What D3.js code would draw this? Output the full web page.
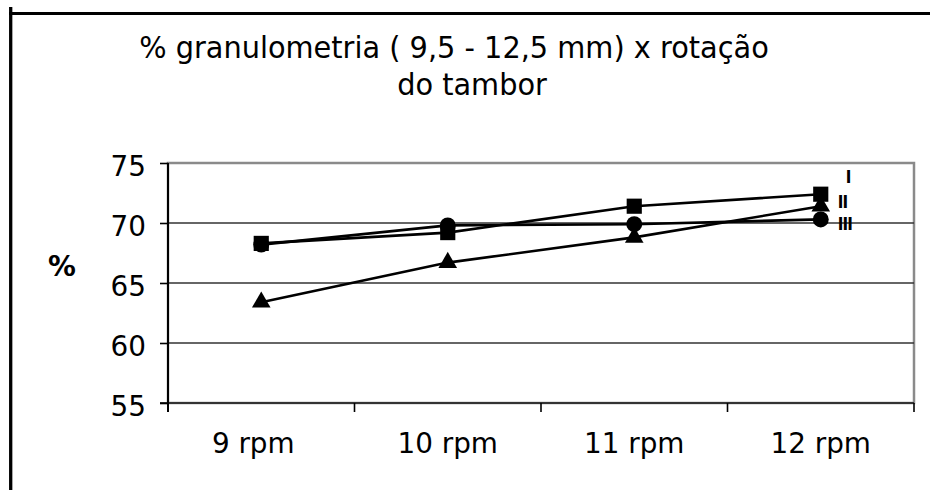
<!DOCTYPE html>
<html>
<head>
<meta charset="utf-8">
<script src="https://cdn.jsdelivr.net/npm/d3@7"></script>
<style>
  body { margin: 0; background: #fff; }
  svg text { font-family: "DejaVu Sans", Verdana, sans-serif; fill: #000; }
</style>
</head>
<body>
<svg width="930" height="490"></svg>
<script>
const categories = ["9 rpm", "10 rpm", "11 rpm", "12 rpm"];
const serieI = [68.3, 69.2, 71.4, 72.4];
const serieII = [63.4, 66.7, 68.8, 71.4];
const serieIII = [68.2, 69.8, 69.9, 70.3];
const seriesNames = ["I", "II", "III"];
const yTicks = [55, 60, 65, 70, 75];
const titleLines = ["% granulometria ( 9,5 - 12,5 mm) x rotação", "do tambor"];

const svg = d3.select("svg");
const sx = 0.96; // the original text is a little narrow for its height

// frame around the chart (only left and top visible)
svg.append("line").attr("x1", 10.7).attr("x2", 10.7).attr("y1", 7).attr("y2", 490)
  .attr("stroke", "#000").attr("stroke-width", 3.3);
svg.append("line").attr("x1", 9).attr("x2", 930).attr("y1", 13.4).attr("y2", 13.4)
  .attr("stroke", "#000").attr("stroke-width", 3);

const plot = { left: 168, right: 914, top: 163, bottom: 403 };

const x = d3.scaleBand().domain(categories).range([plot.left, plot.right]);
const y = d3.scaleLinear().domain([55, 75]).range([plot.bottom, plot.top]);

function label(g, tx, ty, txt, size, anchor) {
  return g.append("text")
    .attr("transform", `translate(${tx},${ty}) scale(${sx},1)`)
    .attr("text-anchor", anchor || "middle")
    .attr("font-size", size)
    .text(txt);
}

// title
label(svg, 454, 58, titleLines[0], 30);
label(svg, 472, 95, titleLines[1], 30);

// plot area border
svg.append("rect")
  .attr("x", plot.left).attr("y", plot.top)
  .attr("width", plot.right - plot.left).attr("height", plot.bottom - plot.top)
  .attr("fill", "none").attr("stroke", "#8a8a8a").attr("stroke-width", 2.5);

// gridlines
svg.append("g")
  .selectAll("line")
  .data(yTicks.filter((d) => d > 55 && d < 75))
  .enter()
  .append("line")
  .attr("x1", plot.left).attr("x2", plot.right)
  .attr("y1", (d) => y(d)).attr("y2", (d) => y(d))
  .attr("stroke", "#333").attr("stroke-width", 1.6);

// x axis: line + ticks at band boundaries
const xAxis = svg.append("g").attr("class", "x-axis");
xAxis.append("line")
  .attr("x1", plot.left - 8).attr("x2", plot.right)
  .attr("y1", plot.bottom).attr("y2", plot.bottom)
  .attr("stroke", "#333").attr("stroke-width", 2);
const bounds = categories.map((c) => x(c)).concat([x.range()[1]]);
xAxis.selectAll(".xtick")
  .data(bounds)
  .enter()
  .append("line")
  .attr("class", "xtick")
  .attr("x1", (d) => d).attr("x2", (d) => d)
  .attr("y1", plot.bottom).attr("y2", plot.bottom + 9)
  .attr("stroke", "#000").attr("stroke-width", 1.6);
categories.forEach((c, i) => {
  const cx = x(c) + x.bandwidth() / 2 - (i === 0 ? 8 : 0);
  label(xAxis, cx, 453, c, 29);
});

// y axis
const yAxis = svg.append("g")
  .attr("transform", `translate(${plot.left},0)`)
  .call(d3.axisLeft(y).tickValues(yTicks).tickSize(8).tickSizeOuter(0).tickFormat(""));
yAxis.select(".domain").attr("stroke", "#000").attr("stroke-width", 2)
  .attr("d", `M0,${plot.top}V${plot.bottom + 9}`);
yAxis.selectAll(".tick line").attr("stroke", "#000").attr("stroke-width", 1.6);
yTicks.forEach((t) => label(svg, 146, y(t) + 13, t, 29, "end"));

svg.append("text")
  .attr("transform", `translate(62,276) scale(${sx},1)`)
  .attr("text-anchor", "middle")
  .attr("font-size", 29).attr("font-weight", "bold").text("%");

// series
const series = [
  { name: seriesNames[0], values: serieI, symbol: d3.symbolSquare, size: 230 },
  { name: seriesNames[1], values: serieII, symbol: d3.symbolTriangle, size: 150 },
  { name: seriesNames[2], values: serieIII, symbol: d3.symbolCircle, size: 200 }
];

const line = d3.line()
  .x((d, i) => x(categories[i]) + x.bandwidth() / 2)
  .y((d) => y(d));

const seriesGroup = svg.selectAll(".serie")
  .data(series)
  .enter()
  .append("g")
  .attr("class", "serie");

seriesGroup.append("path")
  .attr("d", (s) => line(s.values))
  .attr("fill", "none")
  .attr("stroke", "#000")
  .attr("stroke-width", 2.6);

seriesGroup.selectAll(".marker")
  .data((s) => s.values.map((v, i) => ({ v, i, s })))
  .enter()
  .append("path")
  .attr("class", "marker")
  .attr("transform", (d) => `translate(${x(categories[d.i]) + x.bandwidth() / 2},${y(d.v)})`)
  .attr("d", (d) => d3.symbol().type(d.s.symbol).size(d.s.size)())
  .attr("fill", "#000");

// data labels next to the last point
const labelShift = { I: [25, -18], II: [17, -5], III: [17, 4] };
seriesGroup.append("text")
  .attr("transform", (s) => `translate(${x(categories[3]) + x.bandwidth() / 2 + labelShift[s.name][0]},${y(s.values[3]) + labelShift[s.name][1] + 7}) scale(0.95,1.12)`)
  .attr("font-size", 16)
  .attr("font-weight", "bold")
  .attr("letter-spacing", -1)
  .text((s) => s.name);
</script>
</body>
</html>
